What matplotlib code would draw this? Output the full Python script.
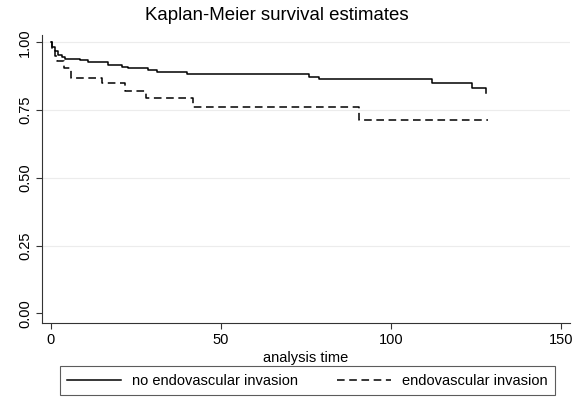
import matplotlib
matplotlib.use("Agg")
import matplotlib.pyplot as plt

# Kaplan-Meier step data
t_no = [0, 0.5, 1.2, 2.3, 3.5, 4.3, 8.6, 11.1, 17.0, 20.9, 22.7, 28.7, 31.2,
        40.0, 76.1, 79.0, 112.0, 124.0, 128.0]
s_no = [1.0, 0.985, 0.97, 0.955, 0.945, 0.94, 0.936, 0.928, 0.918, 0.911,
        0.905, 0.897, 0.891, 0.883, 0.874, 0.865, 0.850, 0.831, 0.815]

t_inv = [0, 0.5, 1.3, 2.0, 4.0, 6.0, 15.0, 22.0, 28.0, 42.0, 90.8, 128.7]
s_inv = [1.0, 0.975, 0.95, 0.93, 0.905, 0.868, 0.85, 0.821, 0.795, 0.763,
         0.714, 0.714]

xticks = [0, 50, 100, 150]
yticks = [0.0, 0.25, 0.5, 0.75, 1.0]

plt.rcParams['font.family'] = ['Liberation Sans', 'DejaVu Sans']

fig = plt.figure(figsize=(5.77, 4.01), dpi=100)
ax = fig.add_axes([0.0723, 0.195, 0.9157, 0.718])

for y in yticks[1:]:
    ax.axhline(y, color='#ececec', lw=0.8, zorder=0)

ax.step(t_no, s_no, where='post', color='black', lw=1.1,
        label='no endovascular invasion')
ax.step(t_inv, s_inv, where='post', color='black', lw=1.1,
        linestyle=(0, (5, 3)), label='endovascular invasion')

ax.set_xlim(-2.6, 152.7)
ax.set_ylim(-0.035, 1.028)
ax.set_xticks(xticks)
ax.set_yticks(yticks)
ax.set_yticklabels(['%.2f' % v for v in yticks], rotation=90, va='center')
ax.tick_params(direction='out', length=4, width=0.8, labelsize=10.5,
               color='#333333')
ax.tick_params(axis='y', pad=3)
ax.tick_params(axis='x', pad=3)
for side in ['top', 'right']:
    ax.spines[side].set_visible(False)
for side in ['left', 'bottom']:
    ax.spines[side].set_color('#333333')
    ax.spines[side].set_linewidth(0.8)

ax.set_xlabel('analysis time', fontsize=10.5, labelpad=3)
fig.text(0.48, 0.962, 'Kaplan-Meier survival estimates', ha='center',
         va='center', fontsize=13.4)

leg = fig.legend(loc='lower left', bbox_to_anchor=(60/577, 6/401, 495/577, 27/401),
                 mode='expand', ncol=2, fontsize=10.5, frameon=True,
                 fancybox=False, edgecolor='#333333', handlelength=3.7,
                 handletextpad=0.75, borderaxespad=0, borderpad=0.5)
leg.get_frame().set_linewidth(0.8)

fig.savefig('out.png', dpi=100)
